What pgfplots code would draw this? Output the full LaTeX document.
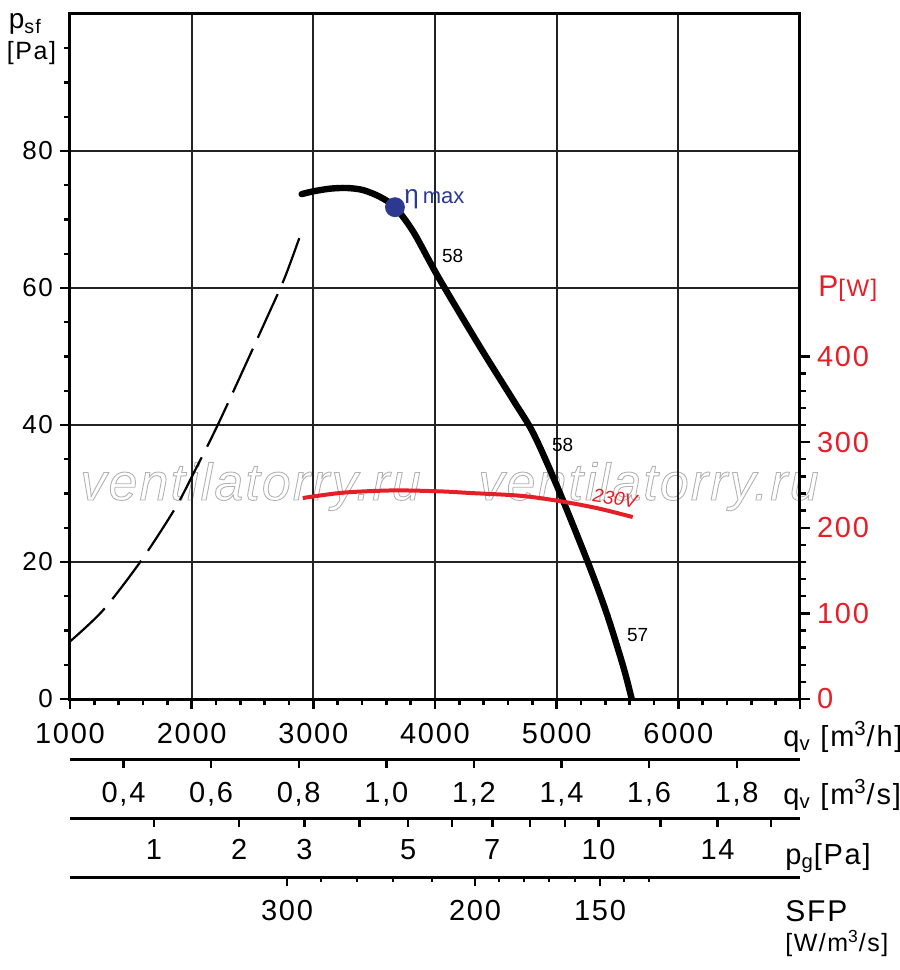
\documentclass[border=0pt]{standalone}
\usepackage{fontspec}
\setmainfont{Liberation Sans}
\newfontfamily\tickfont[LetterSpace=6]{Liberation Sans}
\newfontfamily\wmfont[LetterSpace=4]{Liberation Sans}
\usepackage{pgfplots}
\pgfplotsset{compat=1.18}
\definecolor{pred}{RGB}{230,30,40}
\definecolor{etablue}{RGB}{43,57,144}
\definecolor{gridc}{RGB}{35,35,35}
\pgfplotsset{
  common/.style={
    scale only axis, width=365pt, xmin=1000, xmax=7000,
    /pgf/number format/assume math mode=true,
    tick align=outside,
    every tick/.style={black, line width=1.2pt},
    axis line style={line width=1.5pt, black},
  },
  secaxis/.style={
    common, height=10pt, ymin=0, ymax=1,
    axis y line=none, axis x line*=bottom,
    major tick length=4.5pt, minor tick length=2.5pt,
    xticklabel shift=3.5pt,
    xticklabel style={font=\tickfont\fontsize{14.5}{16}\selectfont},
  },
}
\begin{document}
\begin{tikzpicture}[x=1pt,y=1pt]
% watermark
\node[anchor=base west, inner sep=0pt, text=black!30, line width=0.45pt, font={\wmfont\itshape\fontsize{26}{30}\selectfont}] at (5,99.5) {\special{pdf:literal direct 1 Tr}ventilatorry.ru\special{pdf:literal direct 0 Tr}};
\node[anchor=base west, inner sep=0pt, text=black!30, line width=0.45pt, font={\wmfont\itshape\fontsize{26}{30}\selectfont}] at (204,99.5) {\special{pdf:literal direct 1 Tr}ventilatorry.ru\special{pdf:literal direct 0 Tr}};

% main axis
\begin{axis}[common,
  at={(0,0)}, anchor=south west, height=342.5pt,
  ymin=0, ymax=100,
  xtick={1000,2000,...,7000}, xticklabels={1000,2000,3000,4000,5000,6000,{}},
  minor xtick={1200,1400,...,6800},
  ytick={0,20,...,80}, minor ytick={5,10,...,95},
  xtick pos=bottom, ytick pos=left,
  major tick length=5pt, minor tick length=3pt,
  grid=major, major grid style={gridc, line width=1pt},
  xticklabel shift=3.5pt,
  xticklabel style={font=\tickfont\fontsize{14.5}{16}\selectfont},
  yticklabel style={font=\tickfont\fontsize{13}{15}\selectfont},
]
\addplot[black, line width=1.1pt, dash pattern=on 24pt off 6pt, smooth] coordinates {
 (1000,8.4) (1274,13.0) (1589,20.3) (1863,27.8) (2014,32.9) (2233,40.7) (2617,55.6) (2767,61.6) (2909,68.5)};
\addplot[black, line width=3.2pt, line cap=round, smooth] coordinates {
 (2904,73.7) (2997,74.1) (3137,74.5) (3274,74.6) (3408,74.3) (3548,73.3) (3671,71.8) (3822,68.2) (4027,61.6) (4370,51.4) (4644,43.6) (4808,38.8) (5005,31.0) (5260,19.8) (5411,12.5) (5548,4.7) (5617,0)};
\addplot[only marks, mark=*, mark size=4.75pt, etablue] coordinates {(3671,71.8)};
\node[anchor=base west, inner sep=0pt, text=etablue] at (axis cs:3745,72.4) {{\fontsize{13}{13}\selectfont η}\hspace{2pt}{\fontsize{11}{11}\selectfont max}};
\node[anchor=base west, inner sep=0pt, font=\fontsize{9.5}{10}\selectfont] at (axis cs:4055,63.7) {58};
\node[anchor=base west, inner sep=0pt, font=\fontsize{9.5}{10}\selectfont] at (axis cs:4959,36.1) {58};
\node[anchor=base west, inner sep=0pt, font=\fontsize{9.5}{10}\selectfont] at (axis cs:5575,8.4) {57};
\node[anchor=base west, inner sep=0pt, rotate=-8, text=pred, font=\itshape\fontsize{9.5}{10}\selectfont] at (axis cs:5288,28.8) {230V};
\end{axis}

% right axis (power)
\begin{axis}[common,
  at={(0,0)}, anchor=south west, height=342.5pt,
  ymin=0, ymax=800,
  axis x line=none, axis y line*=right,
  ytick={0,100,...,400}, minor ytick={20,40,...,380},
  major tick length=5pt, minor tick length=3pt,
  yticklabel style={text=pred, font=\tickfont\fontsize{14.5}{16}\selectfont},
]
\addplot[pred, line width=2pt, smooth] coordinates {
 (2913,234.7) (3247,241) (3658,243.6) (4041,242.5) (4288,240.6) (4699,237.4) (5005,231.6) (5329,223) (5625,212.5)};
\end{axis}

% qv m3/s scale
\begin{axis}[secaxis, at={(0,-30pt)}, anchor=south west,
  xtick={1440,2160,2880,3600,4320,5040,5760,6480},
  xticklabels={{0,4},{0,6},{0,8},{1,0},{1,2},{1,4},{1,6},{1,8}},
]
\end{axis}
% pg scale
\begin{axis}[secaxis, at={(0,-59.5pt)}, anchor=south west,
  xtick={1690,2390,2927,3380,3779,4140,4471,4780,5070,5344,5854,6323,6760},
  xticklabels={1,2,3,{},5,{},7,{},{},10,{},14,{}},
  xticklabel shift=2.5pt,
]
\end{axis}
% SFP scale
\begin{axis}[secaxis, at={(0,-89pt)}, anchor=south west,
  xtick={2784,4329,5356},
  xticklabels={300,200,150},
  minor xtick={3063,3359,3655,3975,4526,4732,4937,5151,5553,5759},
]
\end{axis}

% unit labels
\node[anchor=base west, inner sep=0pt, font=\tickfont\fontsize{14.5}{16}\selectfont] at (356.5,-23.5) {q\textsubscript{v} [m\textsuperscript{3}/h]};
\node[anchor=base west, inner sep=0pt, font=\tickfont\fontsize{14.5}{16}\selectfont] at (356.5,-52.5) {q\textsubscript{v} [m\textsuperscript{3}/s]};
\node[anchor=base west, inner sep=0pt, font=\tickfont\fontsize{14.5}{16}\selectfont] at (357.5,-82.7) {p\textsubscript{g}[Pa]};
\node[anchor=base west, inner sep=0pt, font=\tickfont\fontsize{15}{17}\selectfont] at (357.5,-111.3) {SFP};
\node[anchor=base west, inner sep=0pt, font=\tickfont\fontsize{12.5}{14}\selectfont] at (357.5,-126.3) {[W/m\textsuperscript{3}/s]};
\node[anchor=base west, inner sep=0pt, font=\tickfont\fontsize{14}{16}\selectfont] at (-30.8,335) {p\textsubscript{sf}};
\node[anchor=base west, inner sep=0pt, font=\tickfont\fontsize{12.5}{14}\selectfont] at (-31.7,319.5) {[Pa]};
\node[anchor=base west, inner sep=0pt, text=pred] at (374,201.2) {{\tickfont\fontsize{15}{17}\selectfont P}{\tickfont\fontsize{12}{14}\selectfont[W]}};

\pgfresetboundingbox
\path[use as bounding box] (-35,-135.5) rectangle (415,349.5);
\end{tikzpicture}
\end{document}
